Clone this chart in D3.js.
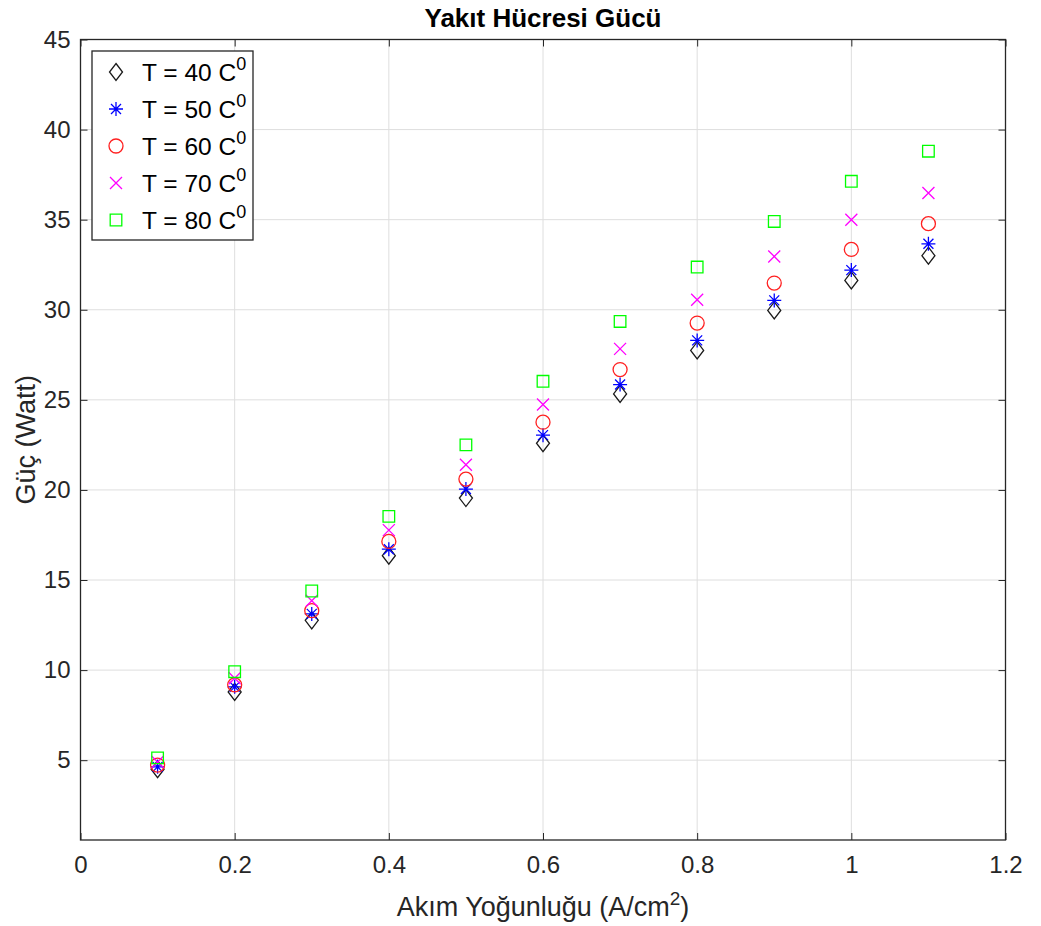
<!DOCTYPE html>
<html>
<head>
<meta charset="utf-8">
<script src="https://cdn.jsdelivr.net/npm/d3@7"></script>
<style>
  body { margin: 0; background: #fff; }
  svg { font-family: "Liberation Sans", Arial, Helvetica, sans-serif; }
</style>
</head>
<body>
<div id="viz-container"></div>
<script>
var W = 1041, H = 926;
var margin = {top: 39.5, right: 35.5, bottom: 86, left: 80.5},
    width = W - margin.left - margin.right,
    height = H - margin.top - margin.bottom;

// current density (A/cm2)
var current = [0.1, 0.2, 0.3, 0.4, 0.5, 0.6, 0.7, 0.8, 0.9, 1.0, 1.1];

// power (W) for each temperature
var p40 = [4.50, 8.79, 12.76, 16.35, 19.55, 22.59, 25.33, 27.74, 29.96, 31.63, 33.00];
var p50 = [4.63, 9.07, 13.12, 16.71, 20.05, 23.04, 25.85, 28.30, 30.52, 32.20, 33.66];
var p60 = [4.73, 9.18, 13.30, 17.14, 20.60, 23.76, 26.68, 29.26, 31.48, 33.35, 34.78];
var p70 = [4.90, 9.55, 13.85, 17.77, 21.40, 24.74, 27.83, 30.56, 32.96, 35.00, 36.48];
var p80 = [5.13, 9.91, 14.39, 18.53, 22.50, 26.03, 29.35, 32.37, 34.90, 37.13, 38.80];

var seriesNames = ["T = 40 C", "T = 50 C", "T = 60 C", "T = 70 C", "T = 80 C"];
var seriesColors = ["#1a1a1a", "#0000ff", "#ff2020", "#ff00ff", "#00ff00"];
var seriesMarkers = ["diamond", "star", "circle", "cross", "square"];
var seriesData = [p40, p50, p60, p70, p80];

var xTicks = [0, 0.2, 0.4, 0.6, 0.8, 1, 1.2];
var yTicks = [5, 10, 15, 20, 25, 30, 35, 40, 45];

var axisColor = "#262626";
var gridColor = "#dedede";

var xScale = d3.scaleLinear().domain([0, 1.2]).range([0, width]);
var yScale = d3.scaleLinear().domain([0.57, 45]).range([height, 0]);

// marker path drawn around 0,0
var markerPath = function(type) {
    var p = d3.path();
    if (type === "diamond") {
        p.moveTo(0, -8.5); p.lineTo(6.5, 0); p.lineTo(0, 8.5); p.lineTo(-6.5, 0); p.closePath();
    } else if (type === "star") {
        var r = 7, d = 5;
        p.moveTo(0, -r); p.lineTo(0, r);
        p.moveTo(-r, 0); p.lineTo(r, 0);
        p.moveTo(-d, -d); p.lineTo(d, d);
        p.moveTo(-d, d); p.lineTo(d, -d);
    } else if (type === "circle") {
        p.moveTo(7, 0); p.arc(0, 0, 7, 0, 2 * Math.PI);
    } else if (type === "cross") {
        var c = 6;
        p.moveTo(-c, -c); p.lineTo(c, c);
        p.moveTo(-c, c); p.lineTo(c, -c);
    } else if (type === "square") {
        p.rect(-5.8, -5.8, 11.6, 11.6);
    }
    return p.toString();
}

var svg = d3.select("#viz-container")
  .append("svg")
    .attr("width", W)
    .attr("height", H)
  .append("g")
    .attr("transform", "translate(" + margin.left + "," + margin.top + ")");

// grid
svg.append("g").selectAll("line")
    .data(xTicks.slice(1, -1))
    .enter().append("line")
    .attr("x1", function(d){ return xScale(d); })
    .attr("x2", function(d){ return xScale(d); })
    .attr("y1", 0).attr("y2", height)
    .attr("stroke", gridColor).attr("stroke-width", 1);
svg.append("g").selectAll("line")
    .data(yTicks.slice(0, -1))
    .enter().append("line")
    .attr("y1", function(d){ return yScale(d); })
    .attr("y2", function(d){ return yScale(d); })
    .attr("x1", 0).attr("x2", width)
    .attr("stroke", gridColor).attr("stroke-width", 1);

// axes, ticks pointing inward
var xAxis = d3.axisBottom(xScale).tickValues(xTicks).tickFormat(function(d){ return d; })
    .tickSizeInner(-7).tickSizeOuter(0).tickPadding(16);
var yAxis = d3.axisLeft(yScale).tickValues(yTicks).tickFormat(function(d){ return d; })
    .tickSizeInner(-7).tickSizeOuter(0).tickPadding(10);
var xTop = d3.axisTop(xScale).tickValues(xTicks).tickFormat("").tickSizeInner(-7).tickSizeOuter(0);
var yRight = d3.axisRight(yScale).tickValues(yTicks).tickFormat("").tickSizeInner(-7).tickSizeOuter(0);

var styleAxis = function(g) {
    g.select(".domain").remove();
    g.selectAll("line").attr("stroke", axisColor);
    g.selectAll("text").attr("fill", axisColor).style("font-size", "24px");
}

svg.append("g").attr("id", "x-axis").attr("transform", "translate(0," + height + ")").call(xAxis).call(styleAxis);
svg.append("g").attr("id", "y-axis").call(yAxis).call(styleAxis);
svg.append("g").call(xTop).call(styleAxis);
svg.append("g").attr("transform", "translate(" + width + ",0)").call(yRight).call(styleAxis);

svg.append("rect")
    .attr("x", 0).attr("y", 0).attr("width", width).attr("height", height)
    .attr("fill", "none").attr("stroke", axisColor).attr("stroke-width", 1.3);

// points
seriesData.forEach(function(vals, i) {
    svg.append("g").selectAll("path")
        .data(vals)
        .enter().append("path")
        .attr("d", markerPath(seriesMarkers[i]))
        .attr("transform", function(d, j){
            return "translate(" + xScale(current[j]) + "," + yScale(d) + ")";
        })
        .attr("fill", "none")
        .attr("stroke", seriesColors[i])
        .attr("stroke-width", 1.3);
});

// title and labels
svg.append("text")
    .attr("x", width / 2).attr("y", -13)
    .attr("text-anchor", "middle")
    .style("font-size", "26px").style("font-weight", "bold")
    .attr("fill", "#000")
    .text("Yakıt Hücresi Gücü");

var xl = svg.append("text")
    .attr("x", width / 2).attr("y", height + 76)
    .attr("text-anchor", "middle")
    .style("font-size", "27px")
    .attr("fill", axisColor);
xl.append("tspan").text("Akım Yoğunluğu (A/cm");
xl.append("tspan").attr("dy", -11).style("font-size", "19px").text("2");
xl.append("tspan").attr("dy", 11).text(")");

svg.append("text")
    .attr("transform", "rotate(-90)")
    .attr("x", -height / 2).attr("y", -46)
    .attr("text-anchor", "middle")
    .style("font-size", "27px")
    .attr("fill", axisColor)
    .text("Güç (Watt)");

// legend
var legend = svg.append("g").attr("transform", "translate(11.5,11.5)");
legend.append("rect")
    .attr("width", 161).attr("height", 189)
    .attr("fill", "#fff").attr("stroke", axisColor).attr("stroke-width", 1.3);

var rows = legend.selectAll(".row")
    .data(seriesNames)
    .enter().append("g")
    .attr("class", "row")
    .attr("transform", function(d, i){ return "translate(0," + (21 + i * 37) + ")"; });

rows.append("path")
    .attr("d", function(d, i){ return markerPath(seriesMarkers[i]); })
    .attr("transform", "translate(24,0)")
    .attr("fill", "none")
    .attr("stroke", function(d, i){ return seriesColors[i]; })
    .attr("stroke-width", 1.3);

var lt = rows.append("text")
    .attr("x", 50).attr("y", 9)
    .style("font-size", "24.5px")
    .attr("fill", "#000");
lt.append("tspan").text(function(d){ return d; });
lt.append("tspan").attr("dy", -11).style("font-size", "18px").text("0");
</script>
</body>
</html>
